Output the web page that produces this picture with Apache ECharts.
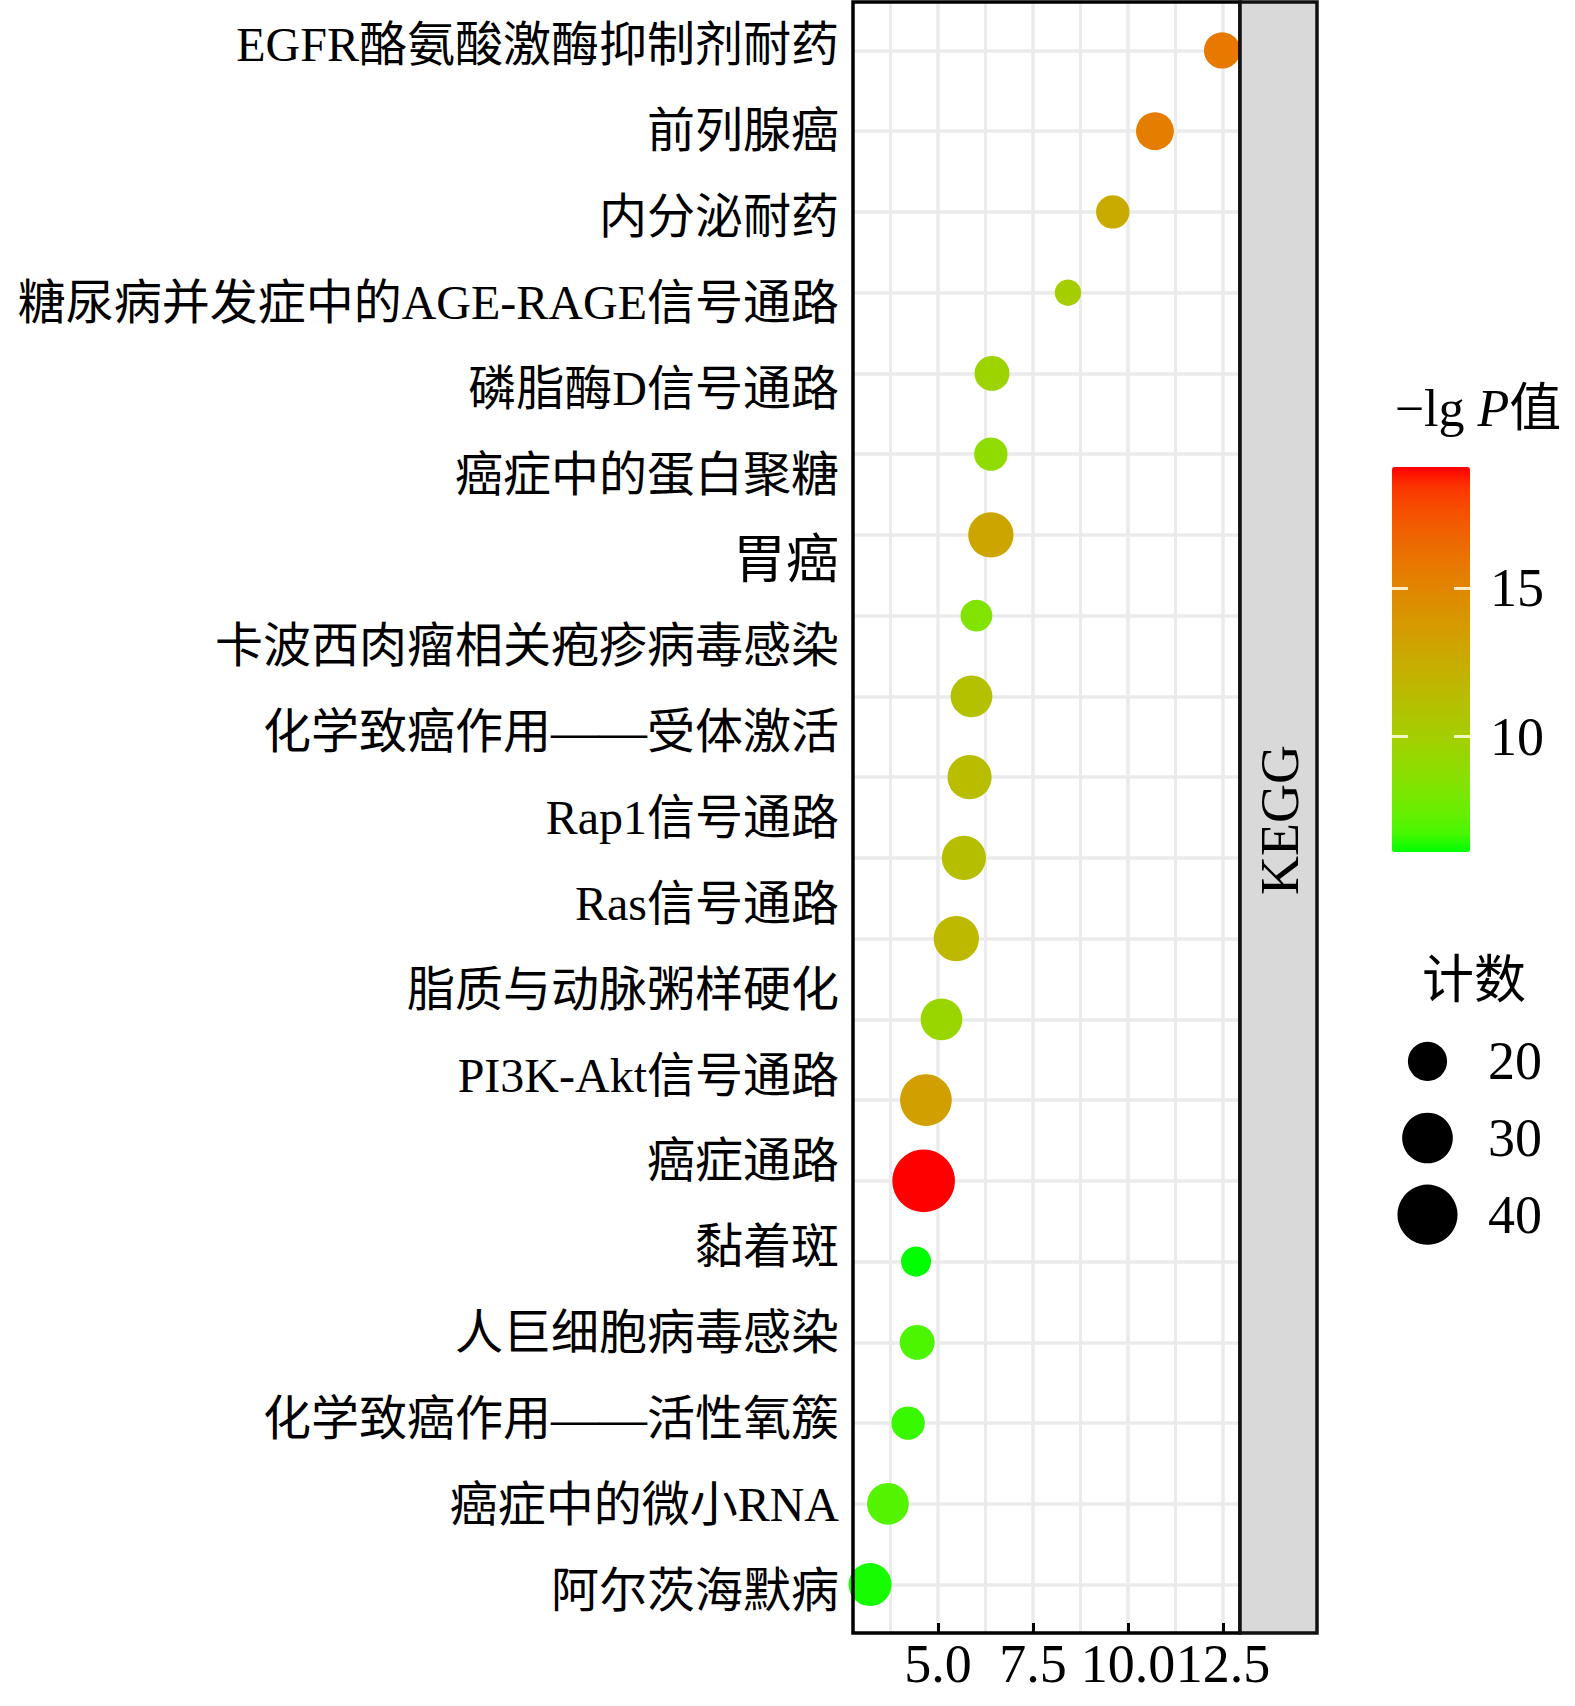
<!DOCTYPE html>
<html>
<head>
<meta charset="utf-8">
<title>KEGG 富集气泡图</title>
<script src="https://cdn.jsdelivr.net/npm/echarts@6/dist/echarts.min.js"></script>
<style>
html, body { margin: 0; padding: 0; background: #fff; }
#main { width: 1575px; height: 1706px; }
</style>
</head>
<body>
<div id="main"></div>
<script>
// y 轴标签（图中共 19 个）
var pathways = [
	'EGFR酪氨酸激酶抑制剂耐药', '前列腺癌', '内分泌耐药', '糖尿病并发症中的AGE-RAGE信号通路',
	'磷脂酶D信号通路', '癌症中的蛋白聚糖', '胃癌', '卡波西肉瘤相关疱疹病毒感染',
	'化学致癌作用——受体激活', 'Rap1信号通路', 'Ras信号通路', '脂质与动脉粥样硬化',
	'PI3K-Akt信号通路', '癌症通路', '黏着斑', '人巨细胞病毒感染',
	'化学致癌作用——活性氧簇', '癌症中的微小RNA', '阿尔茨海默病'
];
// 20 个点（自上而下）
var enrichment = [12.48, 10.71, 9.60, 8.42, 6.42, 6.39, 6.39, 6.01, 5.88, 5.83,
	5.68, 5.48, 5.09, 4.68, 4.62, 4.42, 4.45, 4.21, 3.68, 3.21];
var geneCount = [18, 19, 16, 12, 17, 16, 25, 15, 22, 24,
	24, 25, 22, 31, 43, 14, 17, 16, 22, 23];
var negLogP = [15.7, 15.4, 12.6, 10.0, 9.6, 9.0, 13.0, 8.3, 11.0, 11.3,
	11.2, 11.6, 9.4, 13.4, 19.1, 6.1, 6.8, 6.6, 7.0, 6.3];
var xMajor = [5, 7.5, 10, 12.5];
var xMinor = [3.75, 6.25, 8.75, 11.25];
var colorTicks = [10, 15];
var sizeBreaks = [20, 30, 40];

var serif = "'Liberation Serif', 'Noto Sans CJK SC'";
var gridColor = '#ebebeb';
var xMin = 2.76, xMax = 12.95;

// 计数 -> 点直径
function dotSize(c) {
	return Math.sqrt(Math.max(104 * c - 550, 4));
}

// ggplot 式 Lab 渐变：绿 -> 红
function toLin(c) { c /= 255; return c <= 0.04045 ? c / 12.92 : Math.pow((c + 0.055) / 1.055, 2.4); }
function toSrgb(c) { c = c <= 0.0031308 ? 12.92 * c : 1.055 * Math.pow(c, 1 / 2.4) - 0.055; return Math.round(Math.min(1, Math.max(0, c)) * 255); }
function rgbToLab(rgb) {
	var r = toLin(rgb[0]), g = toLin(rgb[1]), b = toLin(rgb[2]);
	var x = (0.4124 * r + 0.3576 * g + 0.1805 * b) / 0.95047;
	var y = 0.2126 * r + 0.7152 * g + 0.0722 * b;
	var z = (0.0193 * r + 0.1192 * g + 0.9505 * b) / 1.08883;
	var f = function (t) { return t > 0.008856 ? Math.cbrt(t) : 7.787 * t + 16 / 116; };
	var fx = f(x), fy = f(y), fz = f(z);
	return [116 * fy - 16, 500 * (fx - fy), 200 * (fy - fz)];
}
function labToRgb(lab) {
	var fy = (lab[0] + 16) / 116, fx = fy + lab[1] / 500, fz = fy - lab[2] / 200;
	var inv = function (t) { return t > 0.206893 ? t * t * t : (t - 16 / 116) / 7.787; };
	var x = inv(fx) * 0.95047, y = inv(fy), z = inv(fz) * 1.08883;
	var r = 3.2406 * x - 1.5372 * y - 0.4986 * z;
	var g = -0.9689 * x + 1.8758 * y + 0.0415 * z;
	var b = 0.0557 * x - 0.2040 * y + 1.0570 * z;
	return 'rgb(' + toSrgb(r) + ',' + toSrgb(g) + ',' + toSrgb(b) + ')';
}
var lowLab = rgbToLab([0, 255, 0]), highLab = rgbToLab([255, 0, 0]);
var colorStops = [];
for (var i = 0; i <= 20; i++) {
	var t = i / 20;
	colorStops.push(labToRgb([0, 1, 2].map(function (k) { return lowLab[k] + (highLab[k] - lowLab[k]) * t; })));
}

var pMin = Math.min.apply(null, negLogP), pMax = Math.max.apply(null, negLogP);
var rows = enrichment.map(function (v, i) { return i; });
var dots = enrichment.map(function (v, i) { return [v, i, negLogP[i], geneCount[i]]; });
var keyDots = sizeBreaks.map(function (c, i) { return [0.5, i, c]; });
var barTick = { show: true, inside: true, length: 16, lineStyle: { color: 'rgba(255,255,230,0.85)', width: 3 }, customValues: colorTicks };

var chart = echarts.init(document.getElementById('main'), null, { renderer: 'svg' });
var option = {
	animation: false,
	backgroundColor: '#fff',
	textStyle: { fontFamily: serif, color: '#000' },
	grid: [
		{ left: 853, top: 2, width: 387, height: 1631, show: true, backgroundColor: 'transparent', borderColor: '#000', borderWidth: 3.5, z: 10 },
		{ left: 1240, top: 2, width: 77, height: 1631, show: true, backgroundColor: '#d9d9d9', borderColor: '#111', borderWidth: 3.5, z: 11 },
		{ left: 1392, top: 467, width: 78, height: 385 },
		{ left: 1380, top: 1023, width: 95, height: 230 }
	],
	xAxis: [
		{
			gridIndex: 0, type: 'value', min: xMin, max: xMax,
			axisLine: { show: false, onZero: false },
			axisTick: { show: true, inside: true, length: 10, lineStyle: { color: '#000', width: 3 }, customValues: xMajor },
			axisLabel: { customValues: xMajor, margin: 4, fontSize: 54, color: '#000', fontFamily: serif,
				formatter: function (v) { return v.toFixed(1); } },
			splitLine: { show: true, lineStyle: { color: gridColor, width: 3.5 } }
		},
		{
			gridIndex: 0, type: 'value', min: xMin, max: xMax, position: 'top',
			axisLine: { show: false, onZero: false },
			axisTick: { show: false, customValues: xMinor },
			axisLabel: { show: false },
			splitLine: { show: true, lineStyle: { color: gridColor, width: 3 } }
		},
		{ gridIndex: 1, type: 'value', show: false },
		{ gridIndex: 2, type: 'value', show: false },
		{ gridIndex: 3, type: 'value', min: 0, max: 1, show: false }
	],
	yAxis: [
		{
			gridIndex: 0, type: 'value', min: -0.6, max: 19.6, inverse: true,
			axisLine: { show: false, onZero: false },
			axisTick: { show: false, customValues: rows },
			axisLabel: { show: false },
			splitLine: { show: true, lineStyle: { color: gridColor, width: 3.5 } }
		},
		{
			gridIndex: 0, type: 'category', data: pathways, inverse: true, boundaryGap: true, position: 'left',
			axisLine: { show: false, onZero: false }, axisTick: { show: false }, splitLine: { show: false },
			axisLabel: {
				interval: 0, margin: 14, fontSize: 48, color: '#000', fontFamily: serif,
				formatter: function (v, idx) { return idx === 6 ? '{big|' + v + '}' : v; },
				rich: { big: { fontSize: 53, color: '#000', fontFamily: serif } }
			}
		},
		{ gridIndex: 1, type: 'value', show: false },
		{
			gridIndex: 2, type: 'value', min: pMin, max: pMax, position: 'right', z: 10,
			axisLine: { show: false, onZero: false }, splitLine: { show: false },
			axisTick: barTick,
			axisLabel: { customValues: colorTicks, margin: 20, fontSize: 54, color: '#000', fontFamily: serif }
		},
		{
			gridIndex: 2, type: 'value', min: pMin, max: pMax, position: 'left', z: 10,
			axisLine: { show: false, onZero: false }, splitLine: { show: false }, axisLabel: { show: false },
			axisTick: barTick
		},
		{
			gridIndex: 3, type: 'category', data: sizeBreaks.map(String), inverse: true, boundaryGap: true, position: 'right',
			axisLine: { show: false, onZero: false }, axisTick: { show: false }, splitLine: { show: false },
			axisLabel: { interval: 0, margin: 13, fontSize: 54, color: '#000', fontFamily: serif }
		}
	],
	visualMap: {
		type: 'continuous', seriesIndex: 0, dimension: 2, min: pMin, max: pMax,
		calculable: false, orient: 'vertical', left: 1392, top: 467, padding: 0,
		itemWidth: 78, itemHeight: 385, hoverLink: false,
		inRange: { color: colorStops }
	},
	series: [
		{
			type: 'scatter', xAxisIndex: 0, yAxisIndex: 0, data: dots,
			symbolSize: function (val) { return dotSize(val[3]); },
			itemStyle: { opacity: 1 }
		},
		{
			type: 'scatter', xAxisIndex: 4, yAxisIndex: 5, data: keyDots,
			symbolSize: function (val) { return dotSize(val[2]); },
			itemStyle: { color: '#000', opacity: 1 }
		}
	],
	graphic: [
		{ type: 'text', x: 1280, y: 820, rotation: Math.PI / 2, z: 20,
			style: { text: 'KEGG', fontSize: 54, fontFamily: serif, fill: '#000', align: 'center', verticalAlign: 'middle' } },
		{ type: 'text', x: 1478, y: 408, z: 20,
			style: { text: '{n|−lg }{p|P}{n|值}', align: 'center', verticalAlign: 'middle',
				rich: { n: { fontSize: 52, fontFamily: serif, fill: '#000' }, p: { fontSize: 52, fontFamily: serif, fontStyle: 'italic', fill: '#000' } } } },
		{ type: 'text', x: 1474, y: 980, z: 20,
			style: { text: '计数', fontSize: 52, fontFamily: serif, fill: '#000', align: 'center', verticalAlign: 'middle' } }
	]
};
chart.setOption(option);
</script>
</body>
</html>
